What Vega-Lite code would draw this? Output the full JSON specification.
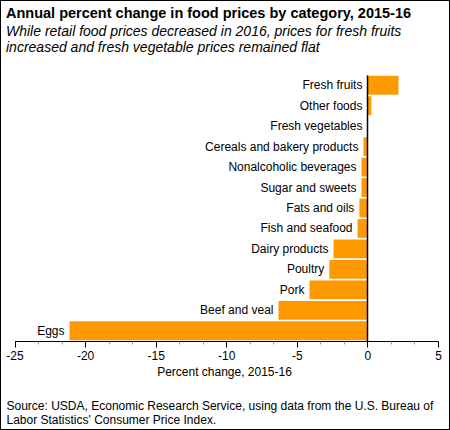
{
  "$schema": "https://vega.github.io/schema/vega-lite/v6.json",
  "width": 450,
  "height": 430,
  "padding": 0,
  "autosize": {"type": "none"},
  "background": "white",
  "view": {"stroke": "black", "strokeWidth": 2, "fill": "white"},
  "config": {"font": "Liberation Sans"},
  "title": {
    "text": "Annual percent change in food prices by category, 2015-16",
    "subtitle": ["While retail food prices decreased in 2016, prices for fresh fruits", "increased and fresh vegetable prices remained flat"],
    "anchor": "start",
    "frame": "group",
    "orient": "top",
    "offset": -56,
    "dx": 6,
    "fontSize": 14.5,
    "fontWeight": "bold",
    "color": "black",
    "subtitleFont": "Liberation Sans",
    "subtitleFontSize": 14,
    "subtitleFontStyle": "italic",
    "subtitleColor": "black",
    "subtitlePadding": 4,
    "subtitleLineHeight": 16
  },
  "data": {
    "values": [
      {"category": "Fresh fruits", "change": 2.2},
      {"category": "Other foods", "change": 0.28},
      {"category": "Fresh vegetables", "change": 0},
      {"category": "Cereals and bakery products", "change": -0.28},
      {"category": "Nonalcoholic beverages", "change": -0.42},
      {"category": "Sugar and sweets", "change": -0.42},
      {"category": "Fats and oils", "change": -0.57},
      {"category": "Fish and seafood", "change": -0.7},
      {"category": "Dairy products", "change": -2.4},
      {"category": "Poultry", "change": -2.7},
      {"category": "Pork", "change": -4.1},
      {"category": "Beef and veal", "change": -6.3},
      {"category": "Eggs", "change": -21.1}
    ]
  },
  "resolve": {"axis": {"x": "independent"}},
  "layer": [
    {
      "mark": {"type": "bar", "color": "#ff9900"},
      "encoding": {
        "y": {
          "field": "category",
          "type": "nominal",
          "sort": null,
          "scale": {"range": [75, 341], "paddingInner": 0.08, "paddingOuter": 0.04},
          "axis": {"title": null, "labels": false, "ticks": false, "domain": true, "domainColor": "black", "domainWidth": 1.5, "offset": -367, "zindex": 2}
        },
        "x": {
          "field": "change",
          "type": "quantitative",
          "scale": {"domain": [-25, 5], "range": [14.5, 438], "nice": false},
          "axis": {
            "orient": "bottom",
            "offset": -89,
            "values": [-25, -20, -15, -10, -5, 0, 5],
            "labelExpr": "'' + datum.value",
            "grid": false,
            "domainColor": "black",
            "domainWidth": 1.2,
            "tickColor": "black",
            "tickSize": 6,
            "tickWidth": 1,
            "labelColor": "black",
            "labelFontSize": 12,
            "labelPadding": 3,
            "labelFlush": false,
            "title": "Percent change, 2015-16",
            "titleFontSize": 12,
            "titleFontWeight": "normal",
            "titleColor": "black",
            "titleX": 224,
            "titleY": 25
          }
        }
      }
    },
    {
      "transform": [{"filter": "datum.change <= 0"}],
      "mark": {"type": "text", "align": "right", "baseline": "middle", "dx": -5, "fontSize": 12, "color": "black"},
      "encoding": {
        "y": {"field": "category", "type": "nominal", "sort": null},
        "x": {
          "field": "change",
          "type": "quantitative",
          "axis": {
            "orient": "bottom",
            "offset": -89,
            "values": [-23.33, -21.67, -18.33, -16.67, -13.33, -11.67, -8.33, -6.67, -3.33, -1.67, 1.67, 3.33],
            "labels": false,
            "domain": false,
            "grid": false,
            "tickColor": "#999999",
            "tickSize": 3,
            "tickWidth": 1,
            "title": ["Source: USDA, Economic Research Service, using data from the U.S. Bureau of", "Labor Statistics' Consumer Price Index."],
            "titleFontSize": 12,
            "titleFontWeight": "normal",
            "titleColor": "black",
            "titleAlign": "left",
            "titleBaseline": "top",
            "titleLineHeight": 14,
            "titleAnchor": "start",
            "titleX": 6,
            "titleY": 59
          }
        },
        "text": {"field": "category", "type": "nominal"}
      }
    },
    {
      "transform": [{"filter": "datum.change > 0"}],
      "mark": {"type": "text", "align": "right", "baseline": "middle", "dx": -5, "fontSize": 12, "color": "black"},
      "encoding": {
        "y": {"field": "category", "type": "nominal", "sort": null},
        "x": {"datum": 0, "type": "quantitative", "axis": null},
        "text": {"field": "category", "type": "nominal"}
      }
    }
  ]
}
